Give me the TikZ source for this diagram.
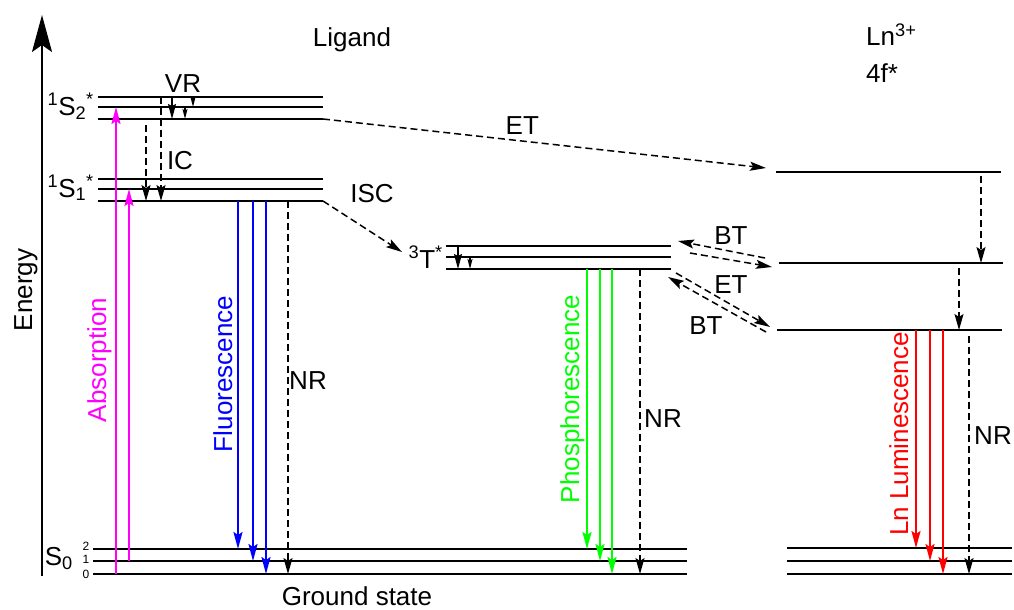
\documentclass[tikz,border=0pt]{standalone}
\usepackage{fontspec}
\setmainfont{Liberation Sans}
\usetikzlibrary{arrows.meta}
\definecolor{absmagenta}{RGB}{255,0,255}
\definecolor{fluoblue}{RGB}{0,0,255}
\definecolor{phosgreen}{RGB}{0,255,0}
\definecolor{lumred}{RGB}{255,0,0}
\newcommand{\lvlname}[3]{\textsuperscript{#1}#2\textsubscript{#3}\textsuperscript{*}}

\begin{document}
\begin{tikzpicture}[x=1pt, y=-1pt,
    every node/.style={font=\fontsize{26}{30}\selectfont, inner sep=0pt},
    level/.style={line width=2pt},
    trans/.style={line width=2pt, -{Stealth[length=17pt, width=9pt, inset=3pt]}},
    nonrad/.style={line width=1.5pt, dash pattern=on 7pt off 4pt, -{Stealth[length=16pt, width=9pt, inset=3pt]}},
    vrbig/.style={line width=1.5pt, -{Stealth[length=15pt, width=8pt, inset=2pt]}},
    vrsmall/.style={line width=1.5pt, -{Stealth[length=10pt, width=5pt, inset=2pt]}},
    vlabel/.style={rotate=90, anchor=base},
    small/.style={font=\fontsize{12}{14}\selectfont}
]
\useasboundingbox (0,0) rectangle (1014,610);

% energy axis
\coordinate (ax0) at (42,576);
\coordinate (ax1) at (42,15);
\draw[line width=2pt, -{Stealth[length=37pt, width=20pt, inset=7pt]}] (ax0) -- (ax1);
\node[vlabel] (energy) at (32,290) {Energy};

% ligand levels
\foreach \nm/\y in {s2a/97, s2b/107, s2c/119, s1a/179, s1b/189, s1c/201}
    \draw[level] (98,\y) coordinate (\nm) -- (323,\y) coordinate (\nm-e);
\foreach \nm/\y in {s0a/549, s0b/561, s0c/574}
    \draw[level] (93,\y) coordinate (\nm) -- (687,\y) coordinate (\nm-e);
\foreach \nm/\y in {ta/246, tb/257, tc/269}
    \draw[level] (446,\y) coordinate (\nm) -- (671,\y) coordinate (\nm-e);

% Ln levels
\draw[level] (776,172) coordinate (lt) -- (1001,172) coordinate (lt-e);
\draw[level] (779,263) coordinate (lm) -- (1003,263) coordinate (lm-e);
\draw[level] (777,330) coordinate (ll) -- (1002,330) coordinate (ll-e);
\foreach \nm/\y in {ga/548, gb/561, gc/574}
    \draw[level] (787,\y) coordinate (\nm) -- (1012,\y) coordinate (\nm-e);

% titles
\node[anchor=base] (ligand) at (352,47) {Ligand};
\node[anchor=base west] (ln) at (866,46) {Ln\textsuperscript{3+}};
\node[anchor=base west] (fstar) at (866,82) {4f*};
\node[anchor=base] (ground) at (357,605) {Ground state};

% level names
\node[anchor=base east] (s2lbl) at (94,115) {\lvlname{1}{S}{2}};
\node[anchor=base east] (s1lbl) at (94,197) {\lvlname{1}{S}{1}};
\node[anchor=base east] (s0lbl) at (73,565) {S\textsubscript{0}};
\node[anchor=base east] (tlbl) at (443,268) {\textsuperscript{3}T\textsuperscript{*}};
\node[small] (v2) at (86,546) {2};
\node[small] (v1) at (86,559) {1};
\node[small] (v0) at (86,574) {0};

% absorption
\draw[trans, absmagenta] ([xshift=23]s0c) -- ([xshift=18]s2b);
\draw[trans, absmagenta] ([xshift=36]s0b) -- ([xshift=31]s1b);
\node[vlabel, text=absmagenta] (abs) at (106,360) {Absorption};

% VR and IC
\draw[vrbig] ([xshift=74]s2a) -- ([xshift=74]s2c);
\draw[vrsmall] ([xshift=87]s2b) -- ([xshift=87]s2c);
\draw[vrsmall] ([xshift=95]s2a) -- ([xshift=95]s2b);
\node (vr) at (183,84) {VR};
\draw[nonrad] ([xshift=48, yshift=-6]s2c) -- ([xshift=48]s1c);
\draw[nonrad] ([xshift=63]s2a) -- ([xshift=63]s1c);
\node (ic) at (180,161) {IC};

% fluorescence
\draw[trans, fluoblue] ([xshift=140]s1c) -- ([xshift=145]s0a);
\draw[trans, fluoblue] ([xshift=155]s1c) -- ([xshift=160]s0b);
\draw[trans, fluoblue] ([xshift=168]s1c) -- ([xshift=173]s0c);
\node[vlabel, text=fluoblue] (fluo) at (232,374) {Fluorescence};
\draw[nonrad] ([xshift=190]s1c) -- ([xshift=195]s0c);
\node (nr1) at (308,381) {NR};

% ISC and ET from S2
\draw[nonrad] (s1c-e) -- ([xshift=-44, yshift=-6]ta);
\node (isc) at (372,194) {ISC};
\draw[nonrad] (s2c-e) -- node[pos=0.45, above=6pt] (et1) {ET} ([xshift=-10, yshift=4]lt);

% triplet relaxation
\draw[vrbig] ([xshift=12]ta) -- ([xshift=12]tc);
\draw[vrsmall] ([xshift=24]tb) -- ([xshift=24]tc);

% phosphorescence
\draw[trans, phosgreen] ([xshift=141]tc) -- ([xshift=494]s0a);
\draw[trans, phosgreen] ([xshift=154]tc) -- ([xshift=507]s0b);
\draw[trans, phosgreen] ([xshift=166]tc) -- ([xshift=519]s0c);
\node[vlabel, text=phosgreen] (phos) at (579,399) {Phosphorescence};
\draw[nonrad] ([xshift=194]tc) -- ([xshift=547]s0c);
\node (nr2) at (663,419) {NR};

% back transfer / energy transfer
\draw[nonrad] ([xshift=-14, yshift=5]lm) -- ([xshift=7, yshift=5]ta-e);
\draw[nonrad] ([xshift=19, yshift=-7]ta-e) -- ([xshift=-7, yshift=-4]lm);
\draw[nonrad] ([xshift=-11, yshift=-2]ll) -- ([xshift=-3, yshift=-8]tc-e);
\draw[nonrad] ([xshift=5, yshift=-4]tc-e) -- ([xshift=-7, yshift=3]ll);
\node (bt1) at (731,236) {BT};
\node (et2) at (731,285) {ET};
\node (bt2) at (706,326) {BT};

% Ln relaxation and luminescence
\draw[nonrad] ([xshift=205, yshift=-4]lt) -- ([xshift=202]lm);
\draw[nonrad] ([xshift=180, yshift=-5]lm) -- ([xshift=182]ll);
\draw[trans, lumred] ([xshift=139]ll) -- ([xshift=129]ga);
\draw[trans, lumred] ([xshift=153]ll) -- ([xshift=143]gb);
\draw[trans, lumred] ([xshift=166]ll) -- ([xshift=156]gc);
\node[vlabel, text=lumred] (lum) at (908,434) {Ln Luminescence};
\draw[nonrad] ([xshift=192, yshift=-6]ll) -- ([xshift=182]gc);
\node (nr3) at (993,436) {NR};

\end{tikzpicture}
\end{document}
